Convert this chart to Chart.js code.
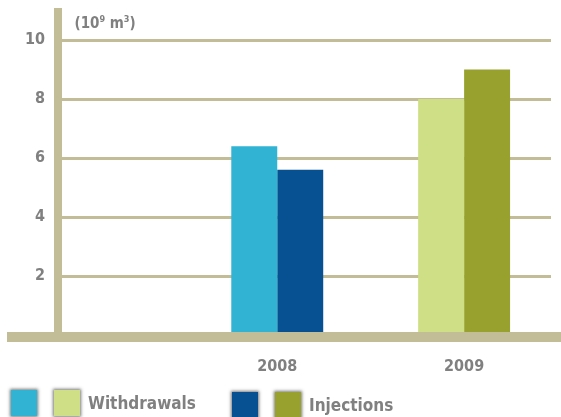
<!DOCTYPE html>
<html>
<head>
<meta charset="utf-8">
<script src="https://cdn.jsdelivr.net/npm/chart.js@4/dist/chart.umd.min.js"></script>
<style>
  html, body { margin: 0; padding: 0; background: #fff; }
  #wrap { position: relative; width: 561px; height: 417px; overflow: hidden; }
  #chart { position: absolute; left: 0; top: 0; }
  .legend { position: absolute; display: flex; align-items: center;
    font: bold 17px 'Liberation Sans Narrow', 'DejaVu Sans Condensed', Roboto, sans-serif;
    color: #808080; }
  .legend span.box { display: inline-block; width: 26px; height: 26px;
    box-shadow: 0 0 3px 1px rgba(60,60,60,0.7); margin-right: 17px; }
  .legend span.box:nth-child(2) { margin-right: 8px; }
</style>
</head>
<body>
<div id="wrap">
  <canvas id="chart" width="561" height="417"></canvas>
  <div class="legend" id="legW" style="left:11px; top:390px;"></div>
  <div class="legend" id="legI" style="left:232px; top:392px;"></div>
</div>
<script>
const years = [2008, 2009];
const withdrawals = [6.4, 8.0];
const injections = [5.6, 9.0];
const yTicks = [2, 4, 6, 8, 10];

const withdrawalColors = ["#31b3d3", "#cfdf85"];
const injectionColors = ["#075193", "#98a12e"];

const FONT = "'Liberation Sans Narrow', 'DejaVu Sans Condensed', Roboto, sans-serif";
const GREY = "#808080";
const OLIVE_LINE = "#c2bd97";

// legend: two swatches per series (one per year)
function buildLegend(id, colors, text) {
  const el = document.getElementById(id);
  el.innerHTML = colors.map(c => `<span class="box" style="background:${c}"></span>`).join("") +
    `<span>${text}</span>`;
}
buildLegend("legW", withdrawalColors, "Withdrawals");
buildLegend("legI", injectionColors, "Injections");

// thick base band and the unit label
const decor = {
  id: "decor",
  afterDatasetsDraw(chart) {
    const ctx = chart.ctx;
    const y0 = chart.scales.y.getPixelForValue(0);
    ctx.save();
    ctx.fillStyle = OLIVE_LINE;
    ctx.fillRect(7, y0 - 3, chart.width - 7, 10);

    let x = chart.chartArea.left + 17;
    const yb = chart.chartArea.top + 16;
    ctx.fillStyle = GREY;
    ctx.textBaseline = "alphabetic";
    const part = (t, size, dy) => {
      ctx.font = `bold ${size}px ${FONT}`;
      ctx.fillText(t, x, yb + dy);
      x += ctx.measureText(t).width;
    };
    part("(10", 15, 0);
    part("9", 9, -6);
    part(" m", 15, 0);
    part("3", 9, -6);
    part(")", 15, 0);
    ctx.restore();
  }
};

// keep tick labels from pushing the plot area inward
const noPad = s => { s.paddingTop = 0; s.paddingBottom = 0; s.paddingLeft = 0; s.paddingRight = 0; };

new Chart(document.getElementById("chart"), {
  type: "bar",
  data: {
    datasets: [
      {
        label: "Withdrawals",
        data: years.map((yr, i) => ({ x: yr, y: withdrawals[i] })),
        backgroundColor: withdrawalColors
      },
      {
        label: "Injections",
        data: years.map((yr, i) => ({ x: yr, y: injections[i] })),
        backgroundColor: injectionColors
      }
    ]
  },
  options: {
    responsive: false,
    animation: false,
    layout: { padding: { top: 12, right: 10, left: 0, bottom: 0 } },
    categoryPercentage: 0.492,
    barPercentage: 1,
    plugins: {
      legend: { display: false },
      tooltip: { enabled: false }
    },
    scales: {
      x: {
        type: "linear",
        offset: false,
        min: 2006.824,
        max: 2009.465,
        afterBuildTicks: s => { s.ticks = years.map(v => ({ value: v })); },
        afterFit: s => { s.height = 82; noPad(s); },
        grid: { display: false, drawTicks: false },
        border: { display: false },
        ticks: {
          padding: 22,
          color: GREY,
          font: { family: FONT, size: 16, weight: "bold" },
          callback: v => String(v)
        }
      },
      y: {
        min: 0,
        max: 10.95,
        afterBuildTicks: s => { s.ticks = yTicks.map(v => ({ value: v })); },
        afterFit: s => { s.width = 57.5; noPad(s); },
        grid: { color: OLIVE_LINE, lineWidth: 3, drawTicks: false },
        border: { display: true, color: OLIVE_LINE, width: 8 },
        ticks: {
          padding: 12.5,
          color: GREY,
          font: { family: FONT, size: 16, weight: "bold" }
        }
      }
    }
  },
  plugins: [decor]
});
</script>
</body>
</html>
